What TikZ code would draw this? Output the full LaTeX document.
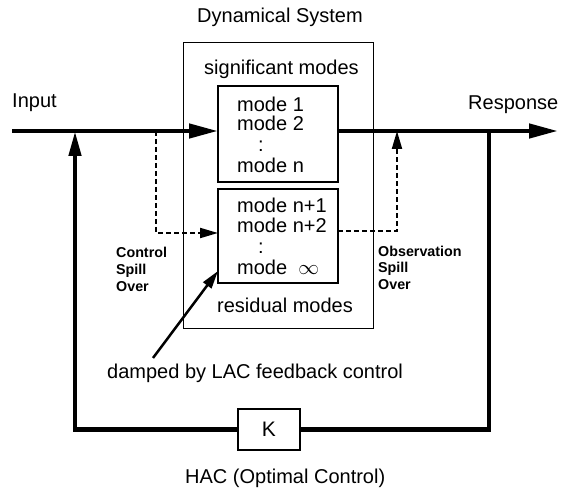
\documentclass[tikz,border=0pt]{standalone}
\usepackage{fontspec}
\setmainfont{Liberation Sans}
\usetikzlibrary{arrows.meta,calc}
\begin{document}
\begin{tikzpicture}[x=1pt,y=-1pt,
  txt/.style={inner sep=0pt,anchor=base west,font=\fontsize{20}{22}\selectfont},
  small/.style={inner sep=0pt,anchor=base west,font=\fontsize{14.3}{15}\selectfont\bfseries},
  main/.style={line width=4.5pt},
  mainarrow/.style={line width=4.5pt,-{Triangle[length=29pt,width=14pt]}},
  fbarrow/.style={line width=4.5pt,-{Triangle[length=25pt,width=12pt]}},
  spill/.style={line width=2pt,dash pattern=on 5pt off 3pt,-{Triangle[length=18pt,width=10pt]}},
  modebox/.style={draw,line width=2pt,inner sep=0pt},
]
\useasboundingbox (0,0) rectangle (566,492);
% boxes
\node[draw,line width=1pt,inner sep=0pt,minimum width=190pt,minimum height=286pt] (sys) at (278,186) {};
\node[modebox,minimum width=120pt,minimum height=96pt] (up) at (278,134) {};
\node[modebox,minimum width=120pt,minimum height=94pt] (lo) at (278,236) {};
\node[draw,line width=1.2pt,inner sep=0pt,minimum width=62pt,minimum height=41pt,font=\fontsize{21}{22}\selectfont] (K) at (269,429.5) {K};
% texts
\node[txt] (tsys) at (197,23) {Dynamical System};
\node[txt] (tsig) at (204,75) {significant modes};
\node[txt] (tin) at (12,108) {Input};
\node[txt] (tresp) at (468,110) {Response};
\node[txt] (m1) at (237,112) {mode 1};
\node[txt] (m2) at (237,131) {mode 2};
\node[txt] (md1) at (258,152) {:};
\node[txt] (mn) at (237,173) {mode n};
\node[txt] (mn1) at (237,213) {mode n+1};
\node[txt] (mn2) at (237,233) {mode n+2};
\node[txt] (md2) at (258,254) {:};
\node[txt] (minf) at (237,275) {mode\ \ ${\scriptstyle}\mathord{\infty}$};
\node[txt] (tres) at (217,313) {residual modes};
\node[small] (tc1) at (116,258) {Control};
\node[small] (tc2) at (116,275) {Spill};
\node[small] (tc3) at (116,292) {Over};
\node[small] (to1) at (378,257) {Observation};
\node[small] (to2) at (378,273) {Spill};
\node[small] (to3) at (378,290) {Over};
\node[txt] (tdamp) at (107,378) {damped by LAC feedback control};
\node[txt] (thac) at (185,483) {HAC (Optimal Control)};
% coordinates
\coordinate (inS) at (12,131);
\coordinate (inE) at (218,131);
\coordinate (outS) at (338,131);
\coordinate (outE) at (558,131);
\coordinate (fbR) at (489,131);
\coordinate (fbRB) at (489,429.5);
\coordinate (fbLB) at (75,429.5);
\coordinate (fbL) at (75,131);
\coordinate (cs1) at (156,131);
\coordinate (cs2) at (156,233);
\coordinate (cs3) at (218,233);
\coordinate (os1) at (338,231);
\coordinate (os2) at (397,231);
\coordinate (os3) at (397,131);
\coordinate (dm1) at (153,358);
\coordinate (dm2) at (218,271);
% main path
\draw[mainarrow] (inS) -- (inE);
\draw[mainarrow] (outS) -- (outE);
\draw[main,line join=miter] (fbR) -- (fbRB) -- (K.east);
\draw[fbarrow,line join=miter] (K.west) -- (fbLB) -- (fbL);
% spill over
\draw[spill] (cs1) -- (cs2) -- (cs3);
\draw[spill] (os1) -- (os2) -- (os3);
% damped arrow
\draw[line width=2.5pt,-{Triangle[length=18pt,width=10pt]}] (dm1) -- (dm2);
\end{tikzpicture}
\end{document}
